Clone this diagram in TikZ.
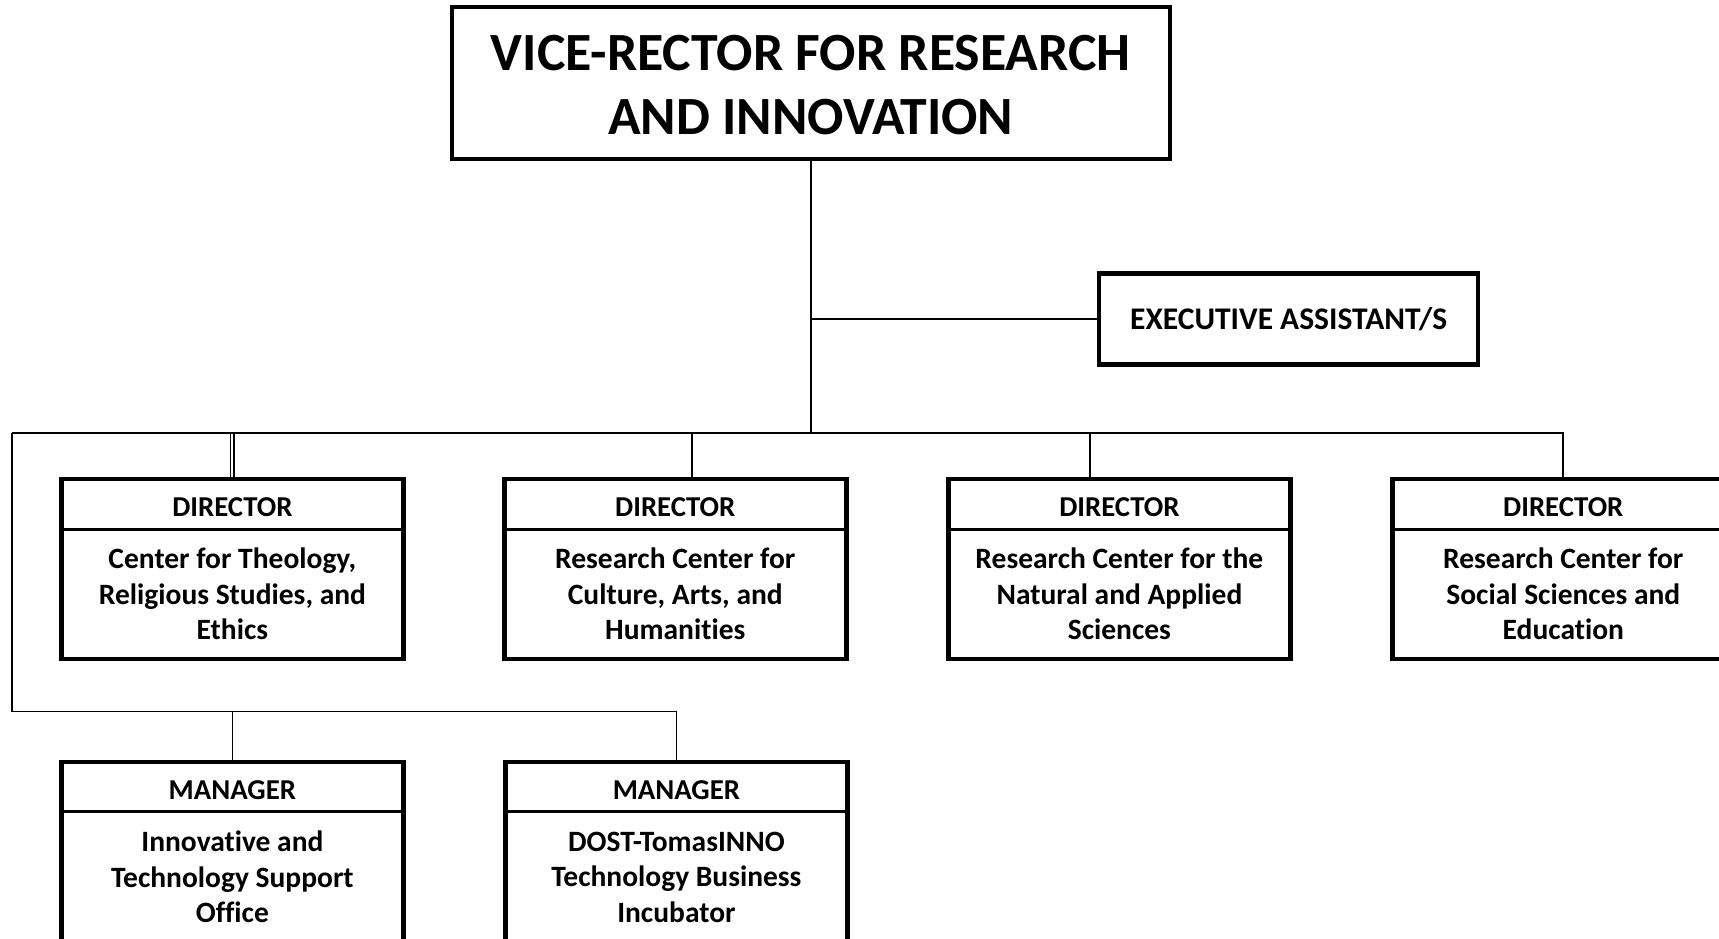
\documentclass[tikz,border=0pt]{standalone}
\usepackage{fontspec}
\setmainfont[Ligatures=NoCommon]{Carlito}
\begin{document}
\begin{tikzpicture}[x=1pt,y=-1pt,
  box/.style={draw, line width=4.5pt, minimum width=342pt, minimum height=180pt, inner sep=0pt},
  divider/.style={line width=2.8pt},
  conn/.style={line width=1.8pt},
  headtxt/.style={font=\bfseries\fontsize{28.8}{34}\selectfont},
  bodytxt/.style={font=\bfseries\fontsize{29.5}{35.5}\selectfont, align=center}]
\useasboundingbox (0,0) rectangle (1719,939);

% top box
\node[draw, line width=3.8pt, minimum width=718pt, minimum height=152pt, inner sep=0pt] (top) at (810.8,83.3) {};
\node[font=\bfseries\fontsize{53.8}{64}\selectfont, align=center] (toptxt) at (810.8,85.5)
      {VICE-RECTOR FOR RESEARCH\\AND INNOVATION};
% executive assistant
\node[draw, line width=4.5pt, minimum width=379pt, minimum height=91pt, inner sep=0pt,
      font=\bfseries\fontsize{31.5}{36}\selectfont] (exec) at (1288.7,319) {EXECUTIVE ASSISTANT/S};

% director boxes
\foreach \n/\x/\t in {d1/232.4/{Center for Theology,\\Religious Studies, and\\Ethics},
                      d2/675.3/{Research Center for\\Culture, Arts, and\\Humanities},
                      d3/1119.4/{Research Center for the\\Natural and Applied\\Sciences},
                      d4/1563.3/{Research Center for\\Social Sciences and\\Education}}{
  \node[box] (\n) at (\x,569) {};
  \draw[divider] (\n.west |- 0,529.5) -- (\n.east |- 0,529.5);
  \node[headtxt] (\n h) at (\x,507) {DIRECTOR};
  \node[bodytxt] (\n b) at (\x,594) {\t};
}
% manager boxes
\foreach \n/\x/\t in {m1/232.4/{Innovative and\\Technology Support\\Office},
                      m2/676.4/{DOST-TomasINNO\\Technology Business\\Incubator}}{
  \node[box] (\n) at (\x,852) {};
  \draw[divider] (\n.west |- 0,811.3) -- (\n.east |- 0,811.3);
  \node[headtxt] (\n h) at (\x,790) {MANAGER};
  \node[bodytxt] (\n b) at (\x,877) {\t};
}

% connectors
\coordinate (busL) at (12,433);
\coordinate (mbus) at (12,711.5);
\coordinate (d2t) at ([xshift=16.5pt]d2.north);
\coordinate (d3t) at ([xshift=-29.7pt]d3.north);
\coordinate (d1a) at ([xshift=-1.6pt]d1.north);
\coordinate (d1c) at ([xshift=1.6pt]d1.north);

\draw[conn] (top.south) -- (top.south |- busL);
\draw[conn] (top.south |- exec.west) -- (exec.west);
\draw[conn] (busL) -- (d4.north |- busL) -- (d4.north);
\draw[line width=1.3pt] (d1a |- busL) -- (d1a);
\draw[line width=1.3pt] (d1c |- busL) -- (d1c);
\draw[conn] (d2t |- busL) -- (d2t);
\draw[conn] (d3t |- busL) -- (d3t);
\draw[conn] (busL) -- (mbus) -- (m2.north |- mbus) -- (m2.north);
\draw[conn] (m1.north |- mbus) -- (m1.north);
\end{tikzpicture}
\end{document}
